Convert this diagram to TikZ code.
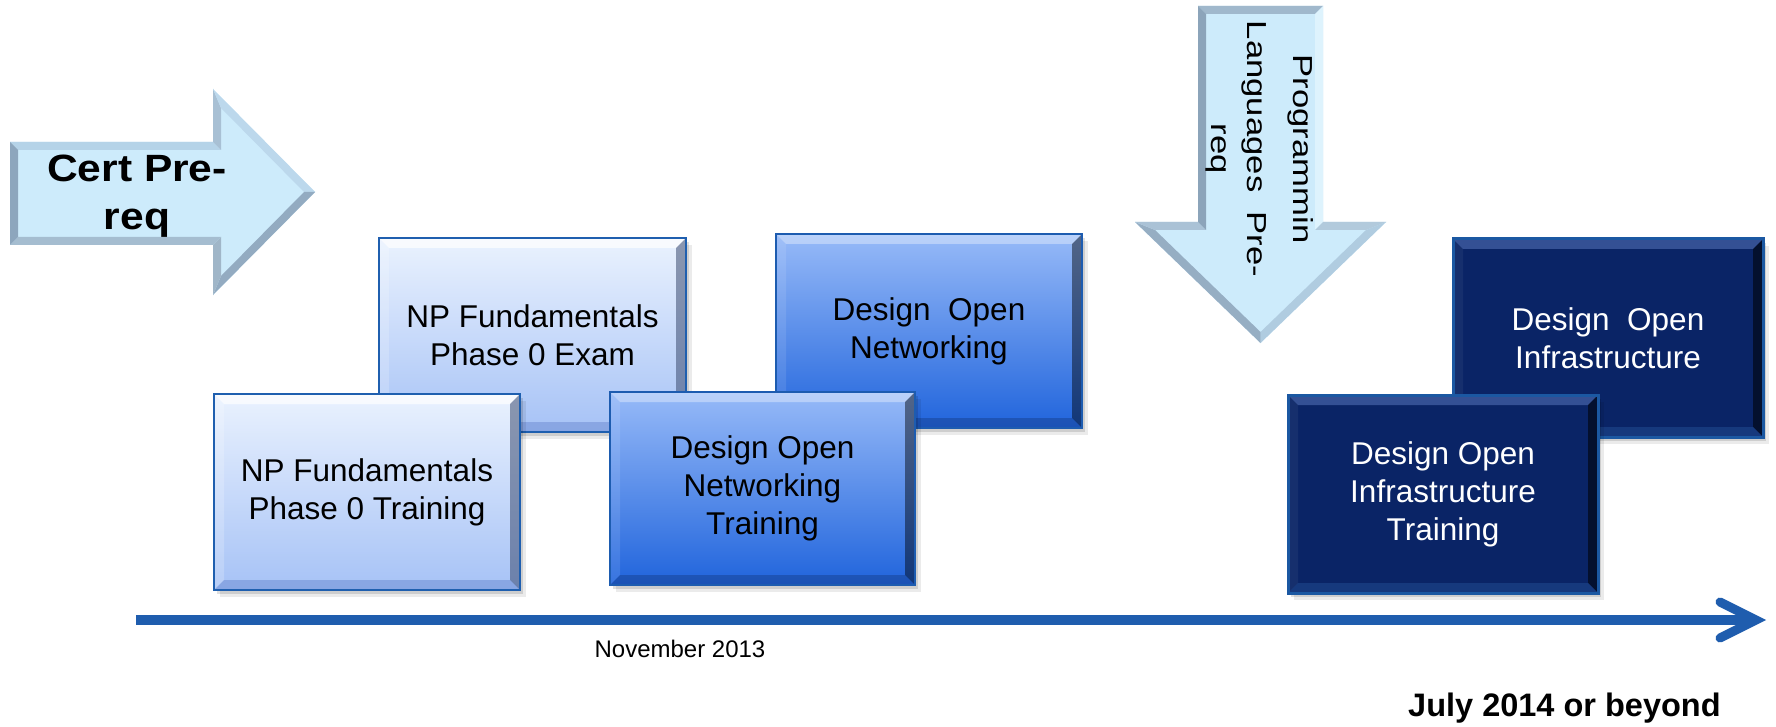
\documentclass[tikz,border=0pt]{standalone}
\usepackage{fontspec}
\setmainfont{Liberation Sans}
\usepackage{graphicx}
\usetikzlibrary{shadows}

\definecolor{arrowfill}{HTML}{CDEBFB}
\definecolor{npTop}{HTML}{EAF2FE}
\definecolor{npBot}{HTML}{A6C2F6}
\definecolor{npBorder}{HTML}{1F5FAF}
\definecolor{donTop}{HTML}{97BAF8}
\definecolor{donBot}{HTML}{2064DC}
\definecolor{donBorder}{HTML}{1D5CB0}
\definecolor{doiFill}{HTML}{0A2466}
\definecolor{doiBorder}{HTML}{1B58A2}
\definecolor{lineblue}{HTML}{1F5DAE}

\newcommand\boxfont{\fontsize{31.5}{38}\selectfont}
\newcommand\myband[5]{\fill[#1] (#2) -- (#3) -- (#4) -- (#5) -- cycle;}
\newcommand\mybevel[5]{%
  \fill[#2] (#1.north west) -- (#1.north east) -- ([shift={(-10,10)}]#1.north east) -- ([shift={(10,10)}]#1.north west) -- cycle;
  \fill[#3] (#1.north west) -- ([shift={(10,10)}]#1.north west) -- ([shift={(10,-10)}]#1.south west) -- (#1.south west) -- cycle;
  \fill[#4] (#1.north east) -- ([shift={(-10,10)}]#1.north east) -- ([shift={(-10,-10)}]#1.south east) -- (#1.south east) -- cycle;
  \fill[#5] (#1.south west) -- ([shift={(10,-10)}]#1.south west) -- ([shift={(-10,-10)}]#1.south east) -- (#1.south east) -- cycle;
}

\tikzset{
  basebox/.style={inner sep=0pt, outer sep=0pt, align=center, font=\boxfont,
    drop shadow={shadow xshift=3pt, shadow yshift=-4pt, opacity=.12, fill=black},
    drop shadow={shadow xshift=6pt, shadow yshift=-7pt, opacity=.08, fill=black}},
  npbox/.style={basebox, top color=npTop, bottom color=npBot, text=black},
  donbox/.style={basebox, top color=donTop, bottom color=donBot, text=black},
  doibox/.style={basebox, fill=doiFill, text=white},
  npborder/.style={draw=npBorder, line width=2.5pt},
  donborder/.style={draw=donBorder, line width=2.5pt},
  doiborder/.style={draw=doiBorder, line width=3pt},
}

\begin{document}
\begin{tikzpicture}[x=1pt,y=-1pt]
\useasboundingbox (0,0) rectangle (1776,727);
\fill[white] (0,0) rectangle (1776,727);

% ---------- Cert Pre-req arrow ----------
\coordinate (cA) at (10,142);   \coordinate (cAi) at (18,150);
\coordinate (cB) at (213,142);  \coordinate (cBi) at (221,150);
\coordinate (cC) at (213,89);   \coordinate (cCi) at (221,108);
\coordinate (cD) at (315,192);  \coordinate (cDi) at (304,192);
\coordinate (cE) at (213,295);  \coordinate (cEi) at (221,276);
\coordinate (cF) at (213,245);  \coordinate (cFi) at (221,237);
\coordinate (cG) at (10,245);   \coordinate (cGi) at (18,237);
\fill[arrowfill] (cA) -- (cB) -- (cC) -- (cD) -- (cE) -- (cF) -- (cG) -- cycle;
\myband{fill={rgb,255:red,181;green,211;blue,232}}{cA}{cB}{cBi}{cAi}
\myband{fill={rgb,255:red,168;green,192;blue,212}}{cB}{cC}{cCi}{cBi}
\myband{fill={rgb,255:red,188;green,216;blue,236}}{cC}{cD}{cDi}{cCi}
\myband{fill={rgb,255:red,147;green,171;blue,193}}{cD}{cE}{cEi}{cDi}
\myband{fill={rgb,255:red,160;green,182;blue,200}}{cE}{cF}{cFi}{cEi}
\myband{fill={rgb,255:red,165;green,189;blue,208}}{cF}{cG}{cGi}{cFi}
\myband{fill={rgb,255:red,141;green,166;blue,189}}{cG}{cA}{cAi}{cGi}
\node[font=\bfseries\fontsize{38}{48}\selectfont, inner sep=0pt] (certtext) at (137,196.4)
  {\scalebox{1.12}[1]{\begin{tabular}{@{}c@{}}Cert Pre-\\req\end{tabular}}};

% ---------- Programming Languages Pre-req arrow ----------
\coordinate (pA) at (1198,6);     \coordinate (pAi) at (1206,14);
\coordinate (pB) at (1323,6);     \coordinate (pBi) at (1315,14);
\coordinate (pC) at (1323,222);   \coordinate (pCi) at (1315,230);
\coordinate (pD) at (1386,222);   \coordinate (pDi) at (1366,230);
\coordinate (pE) at (1260.5,343); \coordinate (pEi) at (1260.5,332);
\coordinate (pF) at (1135,222);   \coordinate (pFi) at (1155,230);
\coordinate (pG) at (1198,222);   \coordinate (pGi) at (1206,230);
\fill[arrowfill] (pA) -- (pB) -- (pC) -- (pD) -- (pE) -- (pF) -- (pG) -- cycle;
\myband{fill={rgb,255:red,160;green,184;blue,204}}{pA}{pB}{pBi}{pAi}
\myband{fill={rgb,255:red,222;green,243;blue,253}}{pB}{pC}{pCi}{pBi}
\myband{fill={rgb,255:red,178;green,202;blue,220}}{pC}{pD}{pDi}{pCi}
\myband{fill={rgb,255:red,176;green,204;blue,224}}{pD}{pE}{pEi}{pDi}
\myband{fill={rgb,255:red,150;green,174;blue,195}}{pE}{pF}{pFi}{pEi}
\myband{fill={rgb,255:red,170;green,194;blue,214}}{pF}{pG}{pGi}{pFi}
\myband{fill={rgb,255:red,140;green,164;blue,186}}{pG}{pA}{pAi}{pGi}
\node[font=\fontsize{27.5}{36}\selectfont, inner sep=0pt, rotate=-90] (progtext) at (1259.2,149)
  {\scalebox{1.26}[1]{\begin{tabular}{@{}c@{}}Programmin\\[10pt]Languages\ \ Pre-\\req\end{tabular}}};

% ---------- boxes ----------
\node[npbox, minimum width=307pt, minimum height=194pt] (exam) at (532.5,335)
  {NP Fundamentals\\Phase 0 Exam};
\mybevel{exam}{white,opacity=.7}{white,opacity=.2}{fill={rgb,255:red,60;green,76;blue,112},opacity=.55}{fill={rgb,255:red,80;green,112;blue,192},opacity=.35}
\draw[npborder] (exam.north west) rectangle (exam.south east);

\node[npbox, minimum width=306pt, minimum height=196pt] (train) at (367,492)
  {NP Fundamentals\\Phase 0 Training};
\mybevel{train}{white,opacity=.7}{white,opacity=.2}{fill={rgb,255:red,60;green,76;blue,112},opacity=.55}{fill={rgb,255:red,80;green,112;blue,192},opacity=.35}
\draw[npborder] (train.north west) rectangle (train.south east);

\node[donbox, minimum width=306pt, minimum height=194pt] (don) at (929,331)
  {Design\ \ Open\\Networking};
\mybevel{don}{white,opacity=.35}{white,opacity=.1}{black,opacity=.45}{fill={rgb,255:red,16;green,48;blue,112},opacity=.35}
\draw[donborder] (don.north west) rectangle (don.south east);

\node[donbox, minimum width=305pt, minimum height=193pt] (dont) at (762.5,488.5)
  {Design Open\\Networking\\Training};
\mybevel{dont}{white,opacity=.35}{white,opacity=.1}{black,opacity=.45}{fill={rgb,255:red,16;green,48;blue,112},opacity=.35}
\draw[donborder] (dont.north west) rectangle (dont.south east);

\node[doibox, minimum width=310pt, minimum height=198pt] (doi) at (1608,338)
  {Design\ \ Open\\Infrastructure};
\mybevel{doi}{fill={rgb,255:red,80;green,110;blue,180},opacity=.6}{white,opacity=.05}{black,opacity=.55}{fill={rgb,255:red,42;green,90;blue,160},opacity=.4}
\draw[doiborder] (doi.north west) rectangle (doi.south east);

\node[doibox, minimum width=310pt, minimum height=198pt] (doit) at (1443,494)
  {Design Open\\Infrastructure\\Training};
\mybevel{doit}{fill={rgb,255:red,80;green,110;blue,180},opacity=.6}{white,opacity=.05}{black,opacity=.55}{fill={rgb,255:red,42;green,90;blue,160},opacity=.4}
\draw[doiborder] (doit.north west) rectangle (doit.south east);

% ---------- timeline ----------
\coordinate (tl0) at (136,620);
\coordinate (tl1) at (1756,620);
\coordinate (tlu) at (1720,602);
\coordinate (tld) at (1720,638);
\draw[lineblue, line width=10pt] (tl0) -- (tl1);
\draw[lineblue, line width=9pt, line cap=round, line join=miter] (tlu) -- (tl1) -- (tld);

\node[font=\fontsize{24}{28}\selectfont, anchor=base, inner sep=0pt] (nov) at (680,657) {November 2013};
\node[font=\bfseries\fontsize{32.5}{38}\selectfont, anchor=base west, inner sep=0pt] (july) at (1408,716) {July 2014 or beyond};
\end{tikzpicture}
\end{document}
